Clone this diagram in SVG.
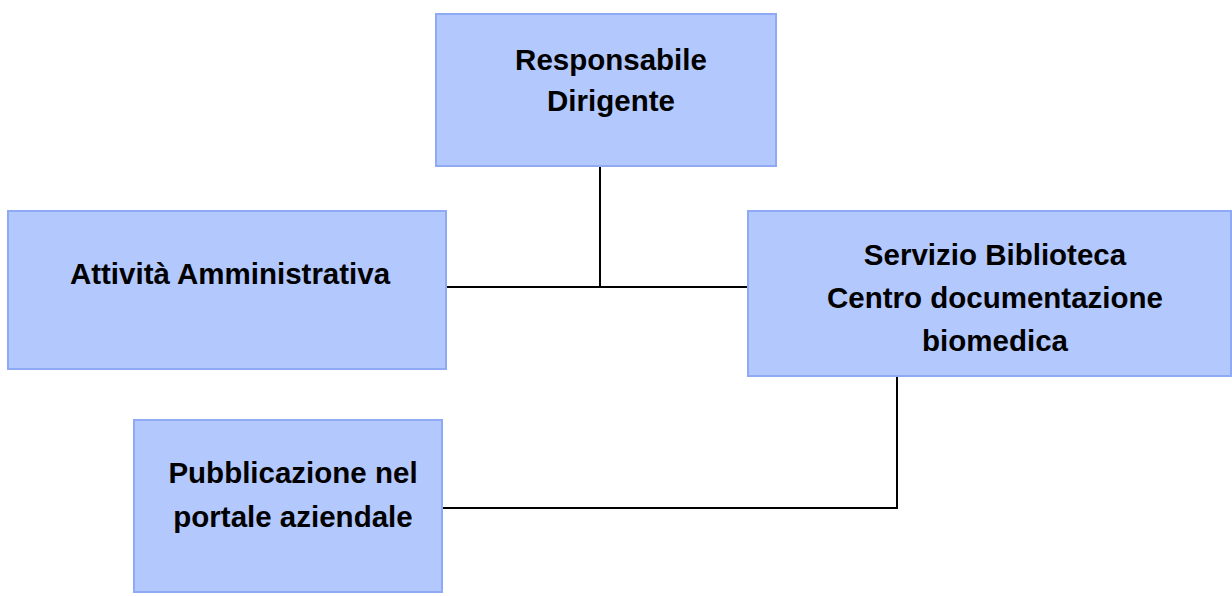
<svg xmlns="http://www.w3.org/2000/svg" width="1232" height="596" viewBox="0 0 1232 596">
<style>
.box{fill:#b3c8fd;stroke:#8eaaf5;stroke-width:2}
.lbl{font-family:"Liberation Sans",Arial,sans-serif;font-weight:bold;font-size:29.5px;fill:#000;text-anchor:middle}
.con{fill:none;stroke:#000;stroke-width:2}
</style>
<rect width="1232" height="596" fill="#fff"/>
<g id="connectors">
<polyline class="con" points="600,166 600,287"/>
<polyline class="con" points="446,287 748,287"/>
<polyline class="con" points="897,376 897,508 442,508"/>
</g>
<g id="node-responsabile">
<rect class="box" x="436" y="14" width="340" height="152"/>
<text class="lbl" x="611" y="70">Responsabile</text>
<text class="lbl" x="611" y="111">Dirigente</text>
</g>
<g id="node-attivita">
<rect class="box" x="8" y="211" width="438" height="158"/>
<text class="lbl" x="230" y="284">Attività Amministrativa</text>
</g>
<g id="node-servizio">
<rect class="box" x="748" y="211" width="483" height="165"/>
<text class="lbl" x="995" y="265">Servizio Biblioteca</text>
<text class="lbl" x="995" y="308">Centro documentazione</text>
<text class="lbl" x="995" y="351">biomedica</text>
</g>
<g id="node-pubblicazione">
<rect class="box" x="134" y="420" width="308" height="172"/>
<text class="lbl" x="293" y="483">Pubblicazione nel</text>
<text class="lbl" x="293" y="527">portale aziendale</text>
</g>
</svg>
